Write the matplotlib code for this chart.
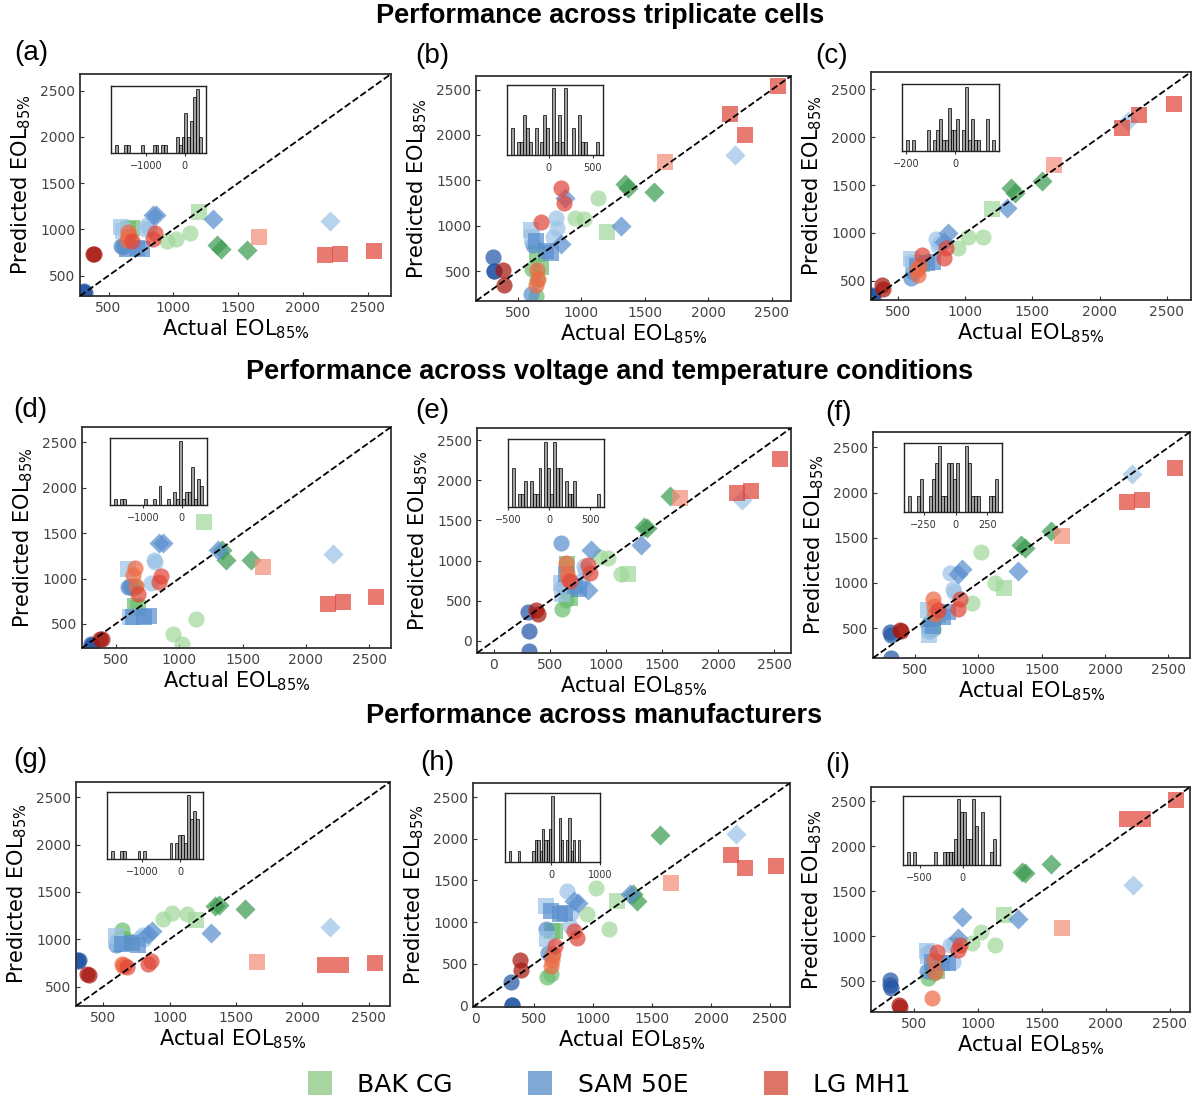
import numpy as np
import matplotlib
matplotlib.use("Agg")
import matplotlib.pyplot as plt
from matplotlib.lines import Line2D

W, H = 1196, 1102

# ---------------- data ----------------
actual = [950, 1020, 1130, 1200, 610, 640, 650, 650, 680, 1340, 1370, 1570,
          305, 310, 315, 600, 615, 780, 800, 810, 600, 610, 640, 720, 760,
          840, 870, 1310, 2210,
          380, 390, 640, 650, 660, 680, 840, 860, 1660, 2170, 2290, 2550]
maker = ['BAK'] * 12 + ['SAM'] * 17 + ['LG'] * 12
tone = (['light'] * 4 + ['mid'] * 5 + ['dark'] * 3 +
        ['dark'] * 3 + ['mid'] * 2 + ['light'] * 5 + ['mid'] * 6 + ['light'] +
        ['dark'] * 2 + ['orange'] * 3 + ['red'] * 3 + ['light'] + ['red'] * 3)
shape = (['o'] * 3 + ['s'] + ['o'] * 3 + ['s'] * 2 + ['D'] * 3 +
         ['o'] * 8 + ['s'] * 5 + ['D'] * 4 +
         ['o'] * 8 + ['s'] * 4)

pred_a = [870, 900, 960, 1185, 830, 900, 960, 1000, 1015, 830, 790, 775,
          320, 330, 310, 820, 815, 1000, 1050, 1010, 1030, 980, 790, 800, 790,
          1160, 1160, 1110, 1095,
          730, 735, 890, 970, 930, 870, 900, 960, 918, 727, 734, 765]
pred_b = [1080, 1070, 1310, 935, 520, 230, 400, 690, 545, 1460, 1410, 1370,
          660, 500, 500, 250, 790, 880, 1090, 970, 950, 880, 830, 720, 700,
          800, 1300, 1000, 1780,
          510, 350, 350, 510, 410, 1045, 1410, 1250, 1700, 2230, 2000, 2540]
pred_c = [840, 955, 960, 1250, 600, 650, 700, 690, 680, 1470, 1420, 1545,
          350, 340, 330, 530, 590, 940, 860, 890, 730, 680, 650, 690, 700,
          910, 1000, 1260, 2170,
          455, 420, 610, 560, 660, 770, 735, 840, 1710, 2100, 2230, 2350]
pred_d = [390, 280, 550, 1620, 910, 900, 920, 700, 680, 1320, 1210, 1200,
          280, 270, 260, 910, 920, 950, 1200, 1180, 1110, 580, 580, 580, 590,
          1390, 1390, 1310, 1270,
          330, 335, 1040, 1120, 920, 830, 960, 1030, 1125, 720, 745, 795]
pred_e = [1050, 1030, 830, 830, 400, 510, 610, 960, 530, 1420, 1410, 1800,
          360, 130, -130, 1215, 680, 740, 930, 880, 720, 580, 830, 680, 650,
          630, 1130, 1200, 1760,
          390, 340, 970, 840, 770, 740, 940, 840, 1780, 1840, 1870, 2260]
pred_f = [780, 1340, 1000, 940, 560, 490, 600, 620, 650, 1420, 1390, 1580,
          460, 420, 175, 540, 470, 1110, 930, 900, 700, 420, 520, 620, 680,
          1100, 1160, 1130, 2210,
          480, 470, 820, 740, 660, 700, 710, 820, 1525, 1900, 1920, 2270]
pred_g = [1215, 1280, 1270, 1205, 990, 1100, 1010, 990, 975, 1355, 1360, 1315,
          780, 775, 785, 940, 945, 1010, 1045, 1000, 1030, 960, 950, 960, 940,
          1060, 1090, 1070, 1130,
          630, 625, 740, 720, 730, 710, 740, 765, 757, 730, 730, 745]
pred_h = [1100, 1410, 920, 1250, 340, 380, 600, 890, 890, 1340, 1250, 2040,
          280, 0, 5, 920, 630, 1370, 950, 1110, 1190, 800, 1130, 1100, 1110,
          1250, 1230, 1340, 2060,
          540, 430, 470, 550, 620, 710, 890, 810, 1470, 1800, 1650, 1670]
pred_i = [930, 1050, 900, 1240, 540, 630, 590, 650, 620, 1720, 1700, 1810,
          520, 460, 430, 620, 830, 900, 720, 920, 840, 780, 720, 710, 700,
          980, 1220, 1190, 1570,
          240, 220, 315, 740, 600, 830, 850, 900, 1090, 2300, 2300, 2520]

preds = [pred_a, pred_b, pred_c, pred_d, pred_e, pred_f, pred_g, pred_h, pred_i]
panel_labels = ['(a)', '(b)', '(c)', '(d)', '(e)', '(f)', '(g)', '(h)', '(i)']
limits = [(280, 2680), (170, 2650), (300, 2680), (235, 2670), (-150, 2650),
          (170, 2670), (295, 2660), (-20, 2670), (160, 2660)]
inset_ticks = [[-1000, 0], [0, 500], [-200, 0], [-1000, 0], [-500, 0, 500],
               [-250, 0, 250], [-1000, 0], [0, 1000], [-500, 0]]
row_titles = ['Performance across triplicate cells',
              'Performance across voltage and temperature conditions',
              'Performance across manufacturers']
legend_names = ['BAK CG', 'SAM 50E', 'LG MH1']

# ---------------- styling ----------------
colors = {('BAK', 'light'): '#a1d99b', ('BAK', 'mid'): '#6cbf70',
          ('BAK', 'dark'): '#3d9c52',
          ('SAM', 'dark'): '#2456a6', ('SAM', 'mid'): '#5a8fcf',
          ('SAM', 'light'): '#9cc3e6',
          ('LG', 'dark'): '#a8170f', ('LG', 'orange'): '#ee6b45',
          ('LG', 'red'): '#e0473a', ('LG', 'light'): '#f39079'}
legend_colors = ['#a8d5a0', '#80a8d4', '#dc7468']
sizes = {'o': 135, 's': 120, 'D': 105}

ax_boxes = [(80, 74, 391, 296), (476, 76, 791, 301), (871, 72, 1191, 300),
            (82, 427, 391, 648), (477, 428, 791, 653), (873, 432, 1190, 658),
            (76, 782, 390, 1006), (473, 783, 790, 1007), (871, 787, 1190, 1012)]
inset_boxes = [(111, 86, 206, 153), (507, 85, 603, 155), (902, 84, 999, 151),
               (110, 438, 207, 505), (508, 439, 604, 507), (904, 443, 1002, 512),
               (107, 792, 203, 859), (505, 793, 600, 862), (903, 796, 1000, 865)]
label_pos = [(14, 40), (415, 43), (815, 43), (13, 397), (415, 398), (825, 400),
             (13, 747), (420, 750), (825, 752)]
title_pos = [(600, 16), (610, 372), (594, 716)]

fig = plt.figure(figsize=(W / 100, H / 100), dpi=100)


def add_px_axes(box):
    l, t, r, b = box
    return fig.add_axes([l / W, 1 - b / H, (r - l) / W, (b - t) / H])


act = np.array(actual, dtype=float)
for k in range(9):
    ax = add_px_axes(ax_boxes[k])
    pred = np.array(preds[k], dtype=float)
    for i in range(len(actual)):
        ax.scatter(act[i], pred[i], s=sizes[shape[i]], marker=shape[i],
                   color=colors[(maker[i], tone[i])], alpha=0.72,
                   linewidths=0, zorder=2)
    lo, hi = limits[k]
    ax.plot([lo, hi], [lo, hi], 'k--', lw=1.3, zorder=3)
    ax.set_xlim(lo, hi)
    ax.set_ylim(lo, hi)
    ticks = np.arange(0, 2501, 500)
    ax.set_xticks([t for t in ticks if lo <= t <= hi])
    ax.set_yticks([t for t in ticks if lo <= t <= hi])
    ax.tick_params(direction='in', length=3, labelsize=10, colors='#333333',
                   labelcolor='#444444')
    for sp in ax.spines.values():
        sp.set_color('#333333')
        sp.set_linewidth(1.3)
    ax.set_xlabel(r'Actual EOL$_{85\%}$', fontsize=15, labelpad=2)
    ax.set_ylabel(r'Predicted EOL$_{85\%}$', fontsize=15, labelpad=5)

    # inset residual histogram
    ins = add_px_axes(inset_boxes[k])
    resid = pred - act
    ins.hist(resid, bins=30, color='#808080', edgecolor='black',
             linewidth=0.7, alpha=0.75)
    ins.set_yticks([])
    ins.set_xticks(inset_ticks[k])
    ins.tick_params(labelsize=7, length=2, colors='#333333')
    for sp in ins.spines.values():
        sp.set_color('#222222')
        sp.set_linewidth(1.0)

    fig.text(label_pos[k][0] / W, 1 - label_pos[k][1] / H, panel_labels[k],
             fontsize=20, family='Liberation Sans', ha='left', va='top')

for t, (x, y) in zip(row_titles, title_pos):
    fig.text(x / W, 1 - y / H, t, fontsize=19.5, fontweight='bold',
             family='Liberation Sans', ha='center', va='center')

handles = [Line2D([], [], marker='s', ls='', color=c, markersize=17,
                  markeredgewidth=0) for c in legend_colors]
fig.legend(handles, legend_names, loc='center', bbox_to_anchor=(609 / W, 1 - 1085 / H),
           ncol=3, frameon=False, fontsize=18, handlelength=1.0,
           handletextpad=1.0, columnspacing=3.0)

fig.savefig('out.png', dpi=100)
